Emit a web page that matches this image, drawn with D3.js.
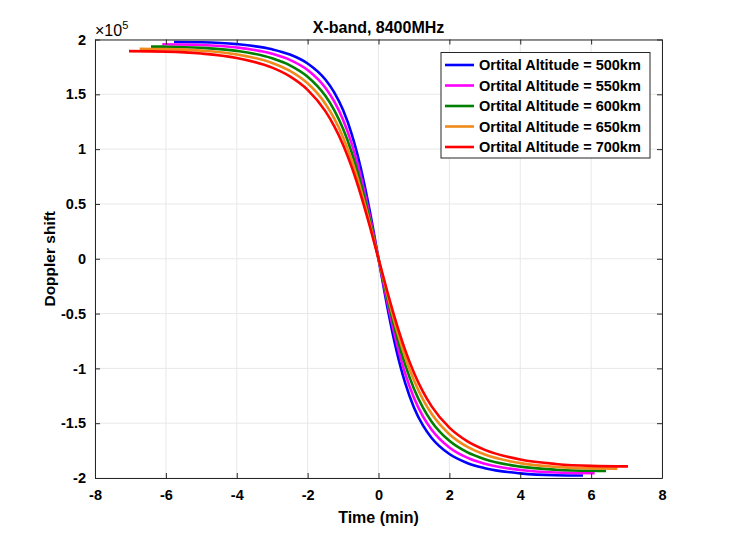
<!DOCTYPE html>
<html>
<head>
<meta charset="utf-8">
<script src="https://cdn.jsdelivr.net/npm/d3@7"></script>
<style>
  html, body { margin: 0; padding: 0; background: #ffffff; }
  svg { display: block; font-family: "Liberation Sans", Arial, sans-serif; }
</style>
</head>
<body>
<svg id="chart" width="733" height="537"></svg>
<script>
// ---- Data (Doppler shift in units of 1e5 Hz, time in minutes) ----
const time500 = [-5.77,-5,-4,-3,-2.5,-2,-1.5,-1.25,-1,-0.75,-0.5,-0.25,0,0.25,0.5,0.75,1,1.25,1.5,2,2.5,3,4,5,5.77];
const shift500 = [1.977,1.9745,1.9575,1.9105,1.8627,1.7813,1.6347,1.5181,1.3558,1.1308,0.8270,0.4413,0,-0.4413,-0.8270,-1.1308,-1.3558,-1.5181,-1.6347,-1.7813,-1.8627,-1.9105,-1.9575,-1.9745,-1.977];

const time550 = [-6.1,-5,-4,-3,-2.5,-2,-1.5,-1.25,-1,-0.75,-0.5,-0.25,0,0.25,0.5,0.75,1,1.25,1.5,2,2.5,3,4,5,6.1];
const shift550 = [1.956,1.9498,1.9274,1.8703,1.8144,1.7213,1.5595,1.4351,1.2671,1.0430,0.7524,0.3971,0,-0.3971,-0.7524,-1.0430,-1.2671,-1.4351,-1.5595,-1.7213,-1.8144,-1.8703,-1.9274,-1.9498,-1.956];

const time600 = [-6.42,-6,-5,-4,-3,-2.5,-2,-1.5,-1.25,-1,-0.75,-0.5,-0.25,0,0.25,0.5,0.75,1,1.25,1.5,2,2.5,3,4,5,6,6.42];
const shift600 = [1.935,1.9343,1.9244,1.8962,1.8289,1.7647,1.6608,1.4859,1.3557,1.1851,0.9644,0.6879,0.3600,0,-0.3600,-0.6879,-0.9644,-1.1851,-1.3557,-1.4859,-1.6608,-1.7647,-1.8289,-1.8962,-1.9244,-1.9343,-1.935];

const time650 = [-6.74,-6,-5,-4,-3,-2.5,-2,-1.5,-1.25,-1,-0.75,-0.5,-0.25,0,0.25,0.5,0.75,1,1.25,1.5,2,2.5,3,4,5,6,6.74];
const shift650 = [1.9144,1.9122,1.8983,1.8641,1.7864,1.7144,1.6004,1.4147,1.2806,1.1093,0.8940,0.6318,0.3284,0,-0.3284,-0.6318,-0.8940,-1.1093,-1.2806,-1.4147,-1.6004,-1.7144,-1.7864,-1.8641,-1.8983,-1.9122,-1.9144];

const time700 = [-7.04,-6,-5,-4,-3,-2.5,-2,-1.5,-1.25,-1,-0.75,-0.5,-0.25,0,0.25,0.5,0.75,1,1.25,1.5,2,2.5,3,4,5,6,7.04];
const shift700 = [1.8941,1.8893,1.8716,1.8311,1.7431,1.6636,1.5407,1.3463,1.2099,1.0396,0.8308,0.5828,0.3012,0,-0.3012,-0.5828,-0.8308,-1.0396,-1.2099,-1.3463,-1.5407,-1.6636,-1.7431,-1.8311,-1.8716,-1.8893,-1.8941];

const seriesNames = ["Ortital Altitude = 500km","Ortital Altitude = 550km","Ortital Altitude = 600km","Ortital Altitude = 650km","Ortital Altitude = 700km"];
const seriesColors = ["#0000ff","#ff00ff","#008000","#f08a1a","#ff0000"];
const xTicks = [-8,-6,-4,-2,0,2,4,6,8];
const yTicks = [-2,-1.5,-1,-0.5,0,0.5,1,1.5,2];

const series = [
  {name: seriesNames[0], color: seriesColors[0], t: time500, v: shift500},
  {name: seriesNames[1], color: seriesColors[1], t: time550, v: shift550},
  {name: seriesNames[2], color: seriesColors[2], t: time600, v: shift600},
  {name: seriesNames[3], color: seriesColors[3], t: time650, v: shift650},
  {name: seriesNames[4], color: seriesColors[4], t: time700, v: shift700}
];

// ---- Layout ----
const L = 95, R = 662, T = 39.5, B = 478;
const svg = d3.select("#chart");
const x = d3.scaleLinear().domain([-8, 8]).range([L, R]);
const y = d3.scaleLinear().domain([-2, 2]).range([B, T]);
const axisColor = "#262626";
const fmt = d => String(d); // plain hyphen-minus like MATLAB

// Grid
const grid = svg.append("g");
grid.selectAll("line.gx").data(xTicks).join("line")
  .attr("x1", d => x(d)).attr("x2", d => x(d)).attr("y1", T).attr("y2", B)
  .attr("stroke", "#e8e8e8").attr("stroke-width", 1);
grid.selectAll("line.gy").data(yTicks).join("line")
  .attr("y1", d => y(d)).attr("y2", d => y(d)).attr("x1", L).attr("x2", R)
  .attr("stroke", "#e8e8e8").attr("stroke-width", 1);

// Curves
const line = d3.line().x(d => x(d[0])).y(d => y(d[1])).curve(d3.curveMonotoneX);
const plot = svg.append("g");
series.forEach(s => {
  plot.append("path")
    .datum(s.t.map((t, i) => [t, s.v[i]]))
    .attr("d", line)
    .attr("fill", "none")
    .attr("stroke", s.color)
    .attr("stroke-width", 2.6)
    .attr("stroke-linejoin", "round");
});

// Axes (ticks inside, box on)
const tickFont = "bold 14.5px 'Liberation Sans', Arial, sans-serif";
const xAxisB = d3.axisBottom(x).tickValues(xTicks).tickSizeInner(-5).tickSizeOuter(0).tickPadding(12).tickFormat(fmt);
const xAxisT = d3.axisTop(x).tickValues(xTicks).tickSizeInner(-5).tickSizeOuter(0).tickFormat("");
const yAxisL = d3.axisLeft(y).tickValues(yTicks).tickSizeInner(-5).tickSizeOuter(0).tickPadding(9).tickFormat(fmt);
const yAxisR = d3.axisRight(y).tickValues(yTicks).tickSizeInner(-5).tickSizeOuter(0).tickFormat("");

function styleAxis(g) {
  g.selectAll("path").attr("stroke", axisColor).attr("stroke-width", 1);
  g.selectAll("line").attr("stroke", axisColor).attr("stroke-width", 1);
  g.selectAll("text").attr("fill", "#000").style("font", tickFont);
}
svg.append("g").attr("transform", `translate(0,${B})`).call(xAxisB).call(styleAxis);
svg.append("g").attr("transform", `translate(0,${T})`).call(xAxisT).call(styleAxis);
svg.append("g").attr("transform", `translate(${L},0)`).call(yAxisL).call(styleAxis);
svg.append("g").attr("transform", `translate(${R},0)`).call(yAxisR).call(styleAxis);

// Exponent label
const expo = svg.append("text").attr("x", 95).attr("y", 36)
  .attr("font-size", 16).attr("fill", "#000");
expo.append("tspan").text("\u00d710");
expo.append("tspan").attr("font-size", 11).attr("dy", -7).text("5");

// Title & axis labels
svg.append("text").attr("x", (L + R) / 2).attr("y", 33).attr("text-anchor", "middle")
  .attr("font-size", 16).attr("font-weight", "bold").text("X-band, 8400MHz");
svg.append("text").attr("x", (L + R) / 2).attr("y", 523).attr("text-anchor", "middle")
  .attr("font-size", 16).attr("font-weight", "bold").text("Time (min)");
svg.append("text").attr("transform", `translate(55,${(T + B) / 2}) rotate(-90)`).attr("text-anchor", "middle")
  .attr("font-size", 15.5).attr("font-weight", "bold").text("Doppler shift");

// Legend
const lg = svg.append("g");
lg.append("rect").attr("x", 441).attr("y", 52.5).attr("width", 209).attr("height", 105.5)
  .attr("fill", "#fff").attr("stroke", axisColor).attr("stroke-width", 1);
series.forEach((s, i) => {
  const cy = 65 + i * 20.5;
  lg.append("line").attr("x1", 445).attr("x2", 474).attr("y1", cy).attr("y2", cy)
    .attr("stroke", s.color).attr("stroke-width", 2.6);
  lg.append("text").attr("x", 479).attr("y", cy + 5)
    .attr("font-size", 14.5).attr("font-weight", "bold").attr("fill", "#000").text(s.name);
});
</script>
</body>
</html>
